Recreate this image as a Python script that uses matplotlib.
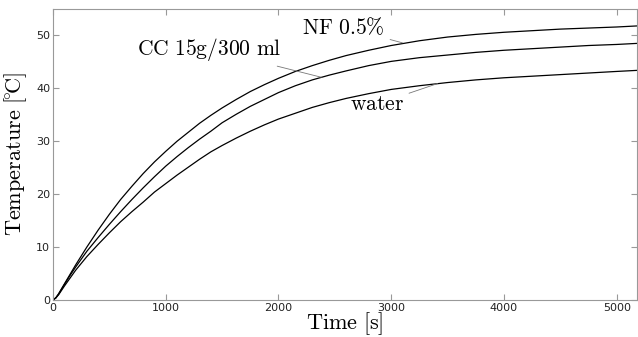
# Heating curves: temperature vs time for three fluids

import matplotlib
matplotlib.use('Agg')
import matplotlib.pyplot as plt

plt.rcParams['mathtext.fontset'] = 'cm'

# Data
time_s = [0, 25, 50, 100, 150, 200, 300, 400, 500, 600, 700, 800, 900, 1000,
          1100, 1200, 1300, 1400, 1500, 1625, 1750, 1875, 2000, 2150, 2300,
          2450, 2600, 2800, 3000, 3250, 3500, 3750, 4000, 4250, 4500, 4750,
          5000, 5180]
nf_temp = [0, 0.4, 1.2, 3.0, 4.8, 6.6, 10.0, 13.2, 16.2, 19.0, 21.5, 23.9,
           26.1, 28.1, 30.0, 31.7, 33.4, 34.9, 36.3, 37.9, 39.4, 40.7, 41.9,
           43.2, 44.3, 45.3, 46.2, 47.2, 48.1, 49.0, 49.7, 50.2, 50.6, 50.9,
           51.2, 51.4, 51.6, 51.8]
cc_temp = [0, 0.4, 1.1, 2.9, 4.6, 6.2, 9.2, 11.8, 14.3, 16.7, 19.0, 21.2,
           23.3, 25.3, 27.1, 28.8, 30.4, 31.9, 33.5, 35.1, 36.6, 37.9, 39.2,
           40.5, 41.6, 42.5, 43.3, 44.3, 45.1, 45.8, 46.3, 46.8, 47.2, 47.5,
           47.8, 48.1, 48.3, 48.5]
water_temp = [0, 0.4, 1.0, 2.6, 4.1, 5.6, 8.2, 10.5, 12.7, 14.8, 16.7, 18.5,
              20.4, 22.0, 23.6, 25.1, 26.6, 28.0, 29.2, 30.6, 31.9, 33.1, 34.2,
              35.3, 36.4, 37.3, 38.1, 39.0, 39.8, 40.5, 41.1, 41.6, 42.0, 42.3,
              42.6, 42.9, 43.2, 43.4]

x_ticks = [0, 1000, 2000, 3000, 4000, 5000]
y_ticks = [0, 10, 20, 30, 40, 50]

fig = plt.figure(figsize=(6.38, 3.37), dpi=100)
ax = fig.add_axes([53 / 638, 1 - 300 / 337, 584 / 638, 291 / 337])

# Curves
ax.plot(time_s, nf_temp, color='black', lw=0.9)
ax.plot(time_s, cc_temp, color='black', lw=0.9)
ax.plot(time_s, water_temp, color='black', lw=0.9)

# Labels with leader lines
leader = dict(arrowstyle='-', color='#777777', lw=0.6, shrinkA=2, shrinkB=0)
ax.annotate(r'$\mathrm{NF\ 0.5\%}$', xy=(3100, 48.6), xytext=(2575, 51.6),
            fontsize=15.5, ha='center', va='center', arrowprops=leader)
ax.annotate(r'$\mathrm{CC\ 15g/300\ ml}$', xy=(2380, 42.1), xytext=(1390, 47.4),
            fontsize=15.5, ha='center', va='center', arrowprops=leader)
ax.annotate(r'$\mathrm{water}$', xy=(3410, 40.9), xytext=(2870, 37.0),
            fontsize=15.5, ha='center', va='center', arrowprops=leader)

# Axes styling
ax.set_xlim(0, 5180)
ax.set_ylim(0, 55)
ax.set_xticks(x_ticks)
ax.set_yticks(y_ticks)
for s in ax.spines.values():
    s.set_color('#999999')
ax.tick_params(direction='in', length=4, color='#999999', labelsize=8,
               labelcolor='#222222', top=True, right=True, pad=2)

ax.set_xlabel(r'$\mathrm{Time\ [s]}$', fontsize=16, labelpad=-2)
ax.set_ylabel(r'$\mathrm{Temperature\ [\!^{\circ}\!C]}$', fontsize=16, labelpad=5)

fig.savefig('out.png', dpi=100)
plt.close()
